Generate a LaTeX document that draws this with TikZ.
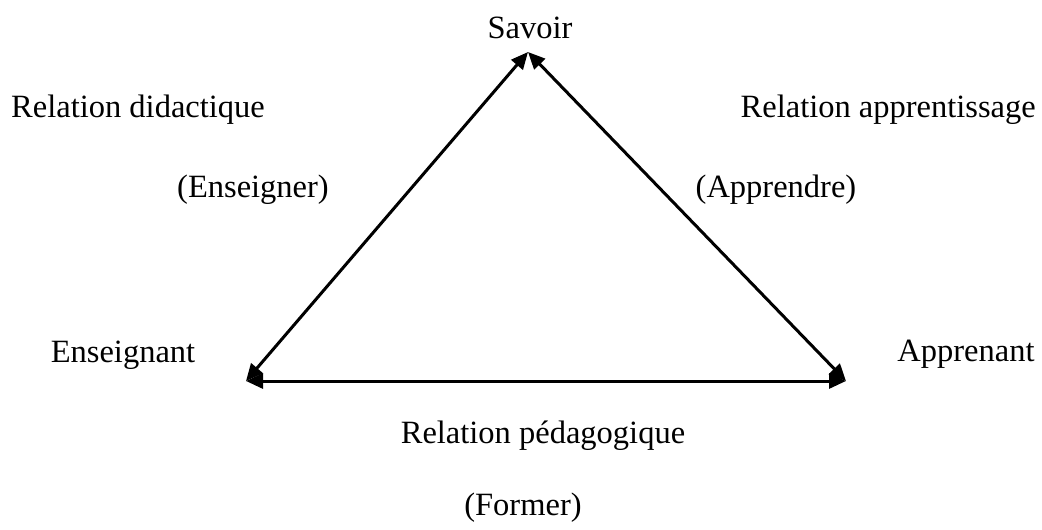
\documentclass[tikz,border=0pt]{standalone}
\usepackage{fontspec}
\setmainfont{Liberation Serif}
\usetikzlibrary{arrows.meta}
\begin{document}
\begin{tikzpicture}[x=1pt,y=-1pt,
  lbl/.style={inner sep=0pt,font=\fontsize{32.5}{38}\selectfont},
  conn/.style={line width=3pt,{Triangle[length=17pt,width=15pt]}-{Triangle[length=17pt,width=15pt]}}]
\useasboundingbox (0,0) rectangle (1042,530);
\node[lbl,anchor=base] (savoir) at (530,38) {Savoir};
\node[lbl,anchor=base west] (reldid) at (11,117) {Relation didactique};
\node[lbl,anchor=base east] (relapp) at (1036,117) {Relation apprentissage};
\node[lbl,anchor=base] (ens) at (253,197) {(Enseigner)};
\node[lbl,anchor=base] (app) at (776,197) {(Apprendre)};
\node[lbl,anchor=base] (enseignant) at (123,362) {Enseignant};
\node[lbl,anchor=base] (apprenant) at (966,361) {Apprenant};
\node[lbl,anchor=base] (relped) at (543,443) {Relation pédagogique};
\node[lbl,anchor=base] (former) at (523,515) {(Former)};
\coordinate (S) at (528,52);
\coordinate (E) at (246,381);
\coordinate (A) at (846,381);
\draw[conn] (S) -- (E);
\draw[conn] (S) -- (A);
\draw[conn] (E) -- (A);
\end{tikzpicture}
\end{document}
